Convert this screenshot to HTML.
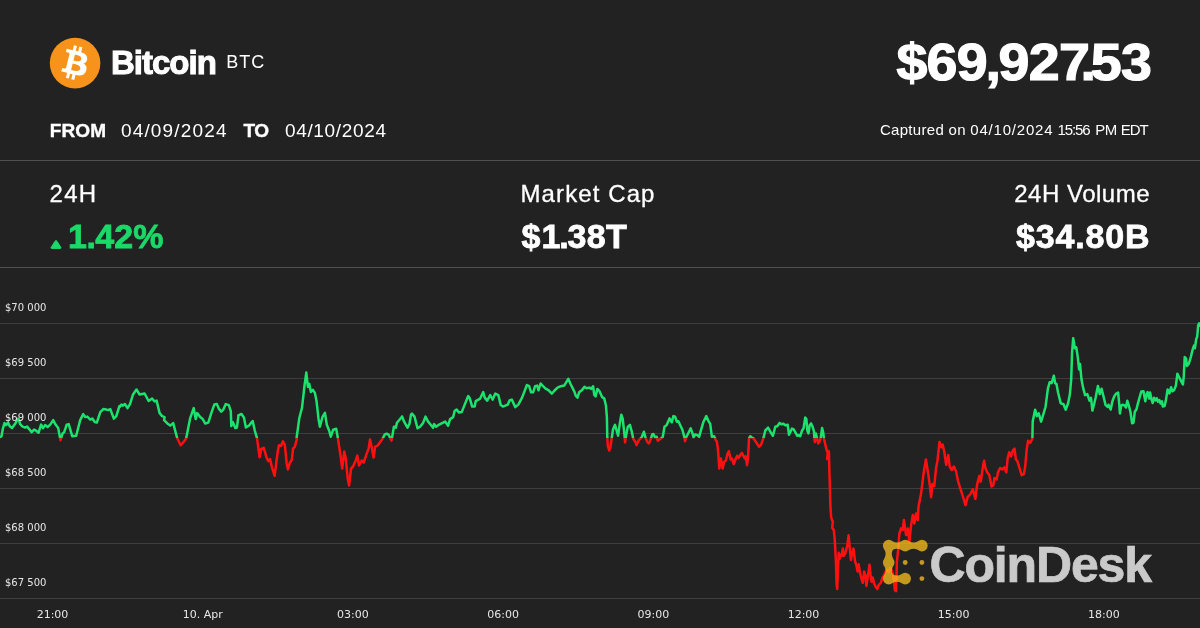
<!DOCTYPE html>
<html><head><meta charset="utf-8"><title>Bitcoin BTC</title>
<style>
html,body{margin:0;padding:0;background:#222;}
body{width:1200px;height:628px;overflow:hidden;position:relative;font-family:"Liberation Sans",sans-serif;color:#fff;}
.abs{position:absolute;white-space:nowrap;line-height:1;}
.b{font-weight:bold;}
.sep{position:absolute;left:0;width:1200px;height:1px;background:#505050;}
svg{position:absolute;left:0;top:0;}
.yl{font-family:"DejaVu Sans",sans-serif;font-size:10px;fill:#e6e6e6;}
.xl{font-family:"DejaVu Sans",sans-serif;font-size:11px;fill:#e6e6e6;}
</style></head><body>
<svg width="1200" height="628" viewBox="0 0 1200 628">
<defs>
<clipPath id="up"><rect x="0" y="280" width="1200" height="158.2"/></clipPath>
<clipPath id="dn"><rect x="0" y="438.2" width="1200" height="189.8"/></clipPath>
</defs>
<rect x="0" y="323" width="1200" height="1" fill="#3e3e3e"/><rect x="0" y="378" width="1200" height="1" fill="#3e3e3e"/><rect x="0" y="433" width="1200" height="1" fill="#3e3e3e"/><rect x="0" y="488" width="1200" height="1" fill="#3e3e3e"/><rect x="0" y="543" width="1200" height="1" fill="#3e3e3e"/><rect x="0" y="598" width="1200" height="1" fill="#3e3e3e"/>
<polyline points="0.0,437.2 1.5,436.2 3.0,428.1 4.5,423.1 6.0,425.1 8.0,422.6 10.0,426.6 12.0,428.1 15.0,424.1 17.6,419.1 18.6,418.6 20.1,424.1 22.6,426.6 25.1,427.6 27.1,426.6 29.6,429.6 31.6,432.2 34.1,429.6 36.1,430.7 38.6,432.7 41.1,424.6 43.1,428.1 45.1,425.1 47.6,427.1 50.2,424.6 53.2,420.1 55.2,424.1 58.2,428.1 60.5,440.2 62.7,433.2 64.2,432.2 66.7,424.6 68.7,424.1 72.2,436.2 76.2,435.7 80.2,420.1 83.2,414.1 85.3,417.1 87.3,416.6 90.3,419.6 92.3,418.6 94.8,422.1 96.8,422.6 100.3,412.1 103.3,409.1 106.3,409.6 108.3,410.1 110.3,409.1 113.8,418.6 116.3,416.1 119.4,406.1 120.0,406.6 121.5,404.6 123.0,405.6 125.0,404.1 127.5,408.1 130.0,404.1 133.0,394.5 136.5,389.5 139.6,394.5 144.6,393.5 148.6,401.0 152.1,398.5 154.6,401.5 156.6,400.5 159.6,413.1 162.1,416.1 164.6,417.1 164.1,420.1 168.1,424.1 170.2,425.6 173.2,423.1 177.2,438.2 180.7,445.2 184.2,441.2 186.2,438.2 190.2,418.1 193.7,408.1 195.7,419.1 197.2,413.1 200.2,417.1 202.7,419.1 205.3,423.6 208.3,422.6 211.3,413.1 214.3,404.6 216.8,404.1 218.8,408.6 221.3,411.6 223.3,409.6 225.8,404.1 228.8,405.1 230.8,411.1 231.3,426.1 232.8,422.1 235.3,428.1 236.9,427.6 238.4,416.1 238.3,415.3 241.5,414.0 244.0,417.8 245.9,427.4 249.1,425.5 251.0,422.9 252.7,421.0 254.8,430.6 257.0,438.2 259.6,457.3 261.2,449.0 263.8,447.8 266.3,456.7 268.2,461.1 270.1,459.2 272.0,467.5 274.6,475.8 277.8,451.0 279.0,445.2 281.0,445.9 282.9,441.4 284.8,444.6 286.7,463.7 288.0,469.4 289.9,462.4 291.8,459.9 293.1,448.4 294.7,447.1 296.9,438.9 296.6,437.7 299.4,417.7 302.0,407.8 304.6,384.9 306.3,372.6 307.9,386.9 309.3,383.9 310.9,391.9 312.9,389.9 314.9,392.9 316.5,400.8 318.5,418.7 319.9,426.7 322.5,416.8 324.9,412.8 326.8,424.7 329.2,430.7 330.8,436.7 333.2,429.7 336.2,428.7 337.8,437.7 340.4,454.6 342.2,468.5 344.2,451.6 345.8,458.6 347.7,478.5 349.1,485.4 351.1,468.5 353.1,466.5 355.7,460.5 357.3,455.6 359.1,465.5 361.7,460.5 363.7,462.5 366.7,453.6 368.6,448.6 370.0,439.6 371.6,446.6 373.6,457.6 375.2,446.6 377.6,445.6 380.6,441.6 383.0,438.0 384.6,434.7 386.6,433.7 388.6,434.7 390.5,438.6 391.5,440.6 392.9,432.7 393.9,426.7 395.9,427.7 396.9,422.7 399.5,419.7 402.1,416.4 404.1,421.7 407.5,427.7 409.5,423.7 411.0,414.6 412.0,413.6 414.5,416.6 417.5,428.2 420.0,426.7 423.0,423.1 425.5,416.6 428.1,421.6 431.1,425.2 433.1,427.7 434.1,424.1 436.1,426.7 439.1,424.6 442.1,423.1 445.1,421.6 448.1,425.7 450.1,419.1 453.1,417.1 454.6,411.1 456.6,409.6 459.1,412.6 461.7,412.1 464.7,404.6 468.2,396.1 469.7,398.1 472.2,406.6 474.7,406.6 475.7,401.1 480.2,398.6 483.2,392.1 484.7,397.6 487.2,400.6 490.2,395.1 492.7,399.6 495.3,393.6 498.3,395.1 500.8,405.1 502.8,406.6 507.8,404.6 509.8,400.1 511.8,399.6 515.3,407.1 518.3,404.6 522.3,397.1 526.9,385.0 529.1,386.2 531.1,392.3 533.1,392.3 535.1,386.2 537.2,385.6 538.5,390.3 540.6,383.5 542.6,385.6 545.3,388.3 548.7,390.3 551.8,393.7 554.1,391.0 557.5,387.6 560.9,386.2 564.2,385.6 566.3,382.2 568.3,378.8 570.3,383.5 572.4,387.6 574.4,391.7 575.7,395.7 577.5,397.7 579.1,392.3 581.8,390.3 584.5,386.9 586.6,388.3 589.3,387.6 591.3,388.9 593.1,386.2 594.3,395.0 595.6,396.4 597.4,388.9 599.4,391.0 602.1,397.1 604.2,398.4 605.9,405.2 606.9,417.4 607.3,437.7 607.8,445.8 609.2,450.5 610.5,447.1 611.6,439.0 613.0,429.5 615.0,424.8 616.3,429.5 618.1,435.6 619.7,424.1 621.3,414.7 622.7,418.7 624.5,435.0 625.1,442.4 626.2,435.0 627.8,426.8 629.9,424.8 631.9,432.2 633.3,439.0 635.3,441.7 636.6,445.1 638.7,440.4 641.4,437.7 641.7,437.3 643.9,431.7 645.6,437.9 647.2,441.8 648.9,443.4 650.6,439.5 652.3,434.5 653.4,434.0 655.0,437.3 656.7,436.8 657.8,440.7 659.5,439.5 661.7,437.9 662.8,436.8 664.5,426.7 666.7,425.1 669.5,418.4 671.8,422.3 673.4,416.1 675.1,416.7 676.8,421.7 678.4,421.2 680.7,426.2 682.3,429.5 684.0,435.6 685.1,441.2 686.2,437.3 687.9,434.0 690.7,428.4 692.4,432.9 693.5,437.3 695.2,434.5 697.4,435.1 699.1,436.8 700.7,431.2 703.5,421.7 706.3,416.1 708.5,421.2 710.2,423.9 711.9,436.8 714.1,436.2 715.8,440.1 716.9,441.8 718.0,449.6 719.3,468.5 720.8,458.5 722.7,468.5 724.1,461.8 725.8,460.7 727.5,454.0 728.8,451.2 730.8,459.6 731.9,458.5 733.8,464.1 735.8,458.5 737.2,455.7 738.6,457.9 740.3,455.1 741.9,452.9 744.7,458.5 745.8,456.3 747.0,465.2 748.1,457.4 749.0,438.4 750.3,436.2 751.9,437.7 753.8,438.7 756.7,443.0 759.1,446.8 761.0,444.9 763.4,438.2 765.3,430.5 768.1,427.7 770.5,432.0 772.9,435.8 775.3,426.7 777.2,426.2 779.6,422.9 781.5,424.3 783.4,423.8 785.3,425.3 787.7,424.8 789.0,434.8 790.1,432.4 792.0,428.6 793.5,429.1 795.4,432.4 797.3,435.8 798.7,435.3 800.1,436.3 802.1,430.5 803.5,428.6 805.2,417.6 806.4,419.1 807.3,430.5 808.5,433.4 809.7,425.3 811.1,423.4 812.6,426.7 814.0,431.5 814.4,438.7 814.9,442.0 815.9,433.4 816.9,437.7 818.3,443.4 819.7,441.5 820.7,437.7 822.1,428.1 823.1,432.0 824.0,438.7 825.5,445.3 826.9,451.1 827.8,450.8 827.2,459.1 828.9,451.5 829.4,471.8 830.0,491.0 830.4,506.2 831.2,517.6 832.8,521.7 832.2,527.9 833.8,530.0 834.8,540.4 835.9,561.1 836.6,583.8 837.2,589.0 837.9,571.4 838.7,552.8 839.5,559.0 840.5,554.8 841.6,555.9 842.8,548.6 843.6,555.9 845.2,553.8 847.3,545.5 848.6,535.2 849.8,548.6 850.9,560.0 852.1,552.8 853.5,548.6 855.0,561.1 856.6,566.2 857.6,571.4 858.6,564.2 860.2,573.5 861.7,579.7 862.8,582.8 864.1,571.4 865.4,575.5 866.4,585.9 868.0,575.5 869.5,564.7 870.5,574.5 871.6,581.8 872.8,577.6 874.2,583.8 875.7,586.9 877.3,589.0 878.8,584.9 880.9,582.8 882.5,577.6 884.0,575.5 885.6,571.4 887.1,569.9 888.5,572.2 890.2,567.9 891.9,570.5 893.6,576.9 894.9,590.3 896.1,591.1 896.9,561.9 898.1,550.2 899.4,533.4 901.1,528.4 902.7,530.1 903.9,520.1 906.1,535.1 907.8,528.4 909.4,541.8 911.1,525.1 912.8,515.1 914.4,523.4 916.1,513.4 917.8,520.1 918.5,506.8 921.2,492.8 923.8,471.8 925.9,459.5 928.2,473.5 929.9,485.8 931.1,497.2 932.5,484.0 934.3,485.8 936.0,468.3 937.4,461.3 939.5,442.0 941.3,447.3 942.7,444.6 944.4,452.5 946.2,464.8 948.3,455.1 949.7,466.5 951.8,470.0 953.9,466.5 956.2,471.8 957.9,480.5 960.6,489.3 962.3,494.5 965.5,505.1 967.6,497.2 970.2,494.5 972.8,489.3 975.4,498.9 977.2,484.0 979.4,475.9 980.8,481.6 982.9,466.6 984.1,460.8 985.4,468.0 987.2,472.3 989.4,475.2 991.5,486.6 993.4,485.2 994.4,478.0 996.6,479.5 998.0,472.3 1000.1,468.0 1002.3,469.4 1004.4,467.3 1006.3,472.3 1007.7,458.0 1009.2,452.2 1010.9,456.5 1013.0,450.1 1014.5,448.6 1015.9,459.4 1017.3,460.8 1019.5,468.0 1021.6,475.2 1023.8,474.4 1025.2,466.6 1026.7,449.4 1028.1,440.8 1030.2,442.9 1032.4,438.6 1032.7,421.6 1035.1,409.7 1036.9,416.1 1038.7,413.4 1041.1,421.6 1043.3,414.3 1045.5,407.0 1047.9,388.7 1049.7,382.2 1051.6,383.2 1053.8,375.8 1055.2,383.2 1056.5,384.1 1058.0,392.3 1060.7,403.3 1063.5,404.2 1065.7,409.7 1068.1,403.3 1069.9,394.1 1071.2,379.5 1072.1,352.0 1073.2,338.2 1074.9,348.3 1076.3,347.4 1077.8,357.5 1079.1,369.4 1080.0,363.9 1081.5,379.5 1083.3,388.7 1085.1,395.1 1087.3,394.1 1089.5,400.6 1091.0,397.8 1092.4,410.6 1094.3,403.3 1095.6,397.8 1097.9,385.9 1099.8,394.1 1101.6,388.7 1103.4,396.0 1105.6,405.1 1107.8,407.0 1108.5,404.8 1110.7,409.6 1112.4,401.3 1114.2,396.5 1115.9,393.8 1118.1,392.5 1119.0,401.3 1119.9,413.5 1121.2,405.6 1122.5,404.8 1124.3,405.2 1126.0,407.4 1127.3,400.8 1128.6,404.8 1130.4,411.8 1132.1,423.2 1133.5,422.7 1134.8,411.8 1136.5,409.2 1137.8,403.9 1139.6,397.3 1141.3,391.6 1143.5,391.2 1145.3,401.3 1146.2,396.0 1147.5,392.1 1149.2,398.6 1150.1,392.5 1151.4,399.1 1152.7,403.0 1154.0,397.8 1155.4,400.4 1156.7,398.2 1158.0,401.7 1159.3,400.0 1160.6,403.5 1161.9,401.3 1162.8,406.5 1164.5,406.1 1165.9,400.4 1167.6,389.4 1169.4,393.4 1171.1,387.3 1172.4,391.2 1174.2,389.9 1175.9,385.5 1177.4,373.7 1179.3,377.5 1181.2,381.3 1182.9,384.5 1183.8,376.2 1184.7,357.1 1186.0,358.4 1187.0,366.0 1188.9,363.5 1190.8,357.1 1192.7,349.4 1194.0,345.6 1194.9,348.2 1196.2,339.2 1197.2,336.7 1198.2,325.2 1199.1,323.3 1200.0,325.8" fill="none" stroke="#1ce26e" stroke-width="2.5" stroke-linejoin="round" stroke-linecap="round" clip-path="url(#up)"/>
<polyline points="0.0,437.2 1.5,436.2 3.0,428.1 4.5,423.1 6.0,425.1 8.0,422.6 10.0,426.6 12.0,428.1 15.0,424.1 17.6,419.1 18.6,418.6 20.1,424.1 22.6,426.6 25.1,427.6 27.1,426.6 29.6,429.6 31.6,432.2 34.1,429.6 36.1,430.7 38.6,432.7 41.1,424.6 43.1,428.1 45.1,425.1 47.6,427.1 50.2,424.6 53.2,420.1 55.2,424.1 58.2,428.1 60.5,440.2 62.7,433.2 64.2,432.2 66.7,424.6 68.7,424.1 72.2,436.2 76.2,435.7 80.2,420.1 83.2,414.1 85.3,417.1 87.3,416.6 90.3,419.6 92.3,418.6 94.8,422.1 96.8,422.6 100.3,412.1 103.3,409.1 106.3,409.6 108.3,410.1 110.3,409.1 113.8,418.6 116.3,416.1 119.4,406.1 120.0,406.6 121.5,404.6 123.0,405.6 125.0,404.1 127.5,408.1 130.0,404.1 133.0,394.5 136.5,389.5 139.6,394.5 144.6,393.5 148.6,401.0 152.1,398.5 154.6,401.5 156.6,400.5 159.6,413.1 162.1,416.1 164.6,417.1 164.1,420.1 168.1,424.1 170.2,425.6 173.2,423.1 177.2,438.2 180.7,445.2 184.2,441.2 186.2,438.2 190.2,418.1 193.7,408.1 195.7,419.1 197.2,413.1 200.2,417.1 202.7,419.1 205.3,423.6 208.3,422.6 211.3,413.1 214.3,404.6 216.8,404.1 218.8,408.6 221.3,411.6 223.3,409.6 225.8,404.1 228.8,405.1 230.8,411.1 231.3,426.1 232.8,422.1 235.3,428.1 236.9,427.6 238.4,416.1 238.3,415.3 241.5,414.0 244.0,417.8 245.9,427.4 249.1,425.5 251.0,422.9 252.7,421.0 254.8,430.6 257.0,438.2 259.6,457.3 261.2,449.0 263.8,447.8 266.3,456.7 268.2,461.1 270.1,459.2 272.0,467.5 274.6,475.8 277.8,451.0 279.0,445.2 281.0,445.9 282.9,441.4 284.8,444.6 286.7,463.7 288.0,469.4 289.9,462.4 291.8,459.9 293.1,448.4 294.7,447.1 296.9,438.9 296.6,437.7 299.4,417.7 302.0,407.8 304.6,384.9 306.3,372.6 307.9,386.9 309.3,383.9 310.9,391.9 312.9,389.9 314.9,392.9 316.5,400.8 318.5,418.7 319.9,426.7 322.5,416.8 324.9,412.8 326.8,424.7 329.2,430.7 330.8,436.7 333.2,429.7 336.2,428.7 337.8,437.7 340.4,454.6 342.2,468.5 344.2,451.6 345.8,458.6 347.7,478.5 349.1,485.4 351.1,468.5 353.1,466.5 355.7,460.5 357.3,455.6 359.1,465.5 361.7,460.5 363.7,462.5 366.7,453.6 368.6,448.6 370.0,439.6 371.6,446.6 373.6,457.6 375.2,446.6 377.6,445.6 380.6,441.6 383.0,438.0 384.6,434.7 386.6,433.7 388.6,434.7 390.5,438.6 391.5,440.6 392.9,432.7 393.9,426.7 395.9,427.7 396.9,422.7 399.5,419.7 402.1,416.4 404.1,421.7 407.5,427.7 409.5,423.7 411.0,414.6 412.0,413.6 414.5,416.6 417.5,428.2 420.0,426.7 423.0,423.1 425.5,416.6 428.1,421.6 431.1,425.2 433.1,427.7 434.1,424.1 436.1,426.7 439.1,424.6 442.1,423.1 445.1,421.6 448.1,425.7 450.1,419.1 453.1,417.1 454.6,411.1 456.6,409.6 459.1,412.6 461.7,412.1 464.7,404.6 468.2,396.1 469.7,398.1 472.2,406.6 474.7,406.6 475.7,401.1 480.2,398.6 483.2,392.1 484.7,397.6 487.2,400.6 490.2,395.1 492.7,399.6 495.3,393.6 498.3,395.1 500.8,405.1 502.8,406.6 507.8,404.6 509.8,400.1 511.8,399.6 515.3,407.1 518.3,404.6 522.3,397.1 526.9,385.0 529.1,386.2 531.1,392.3 533.1,392.3 535.1,386.2 537.2,385.6 538.5,390.3 540.6,383.5 542.6,385.6 545.3,388.3 548.7,390.3 551.8,393.7 554.1,391.0 557.5,387.6 560.9,386.2 564.2,385.6 566.3,382.2 568.3,378.8 570.3,383.5 572.4,387.6 574.4,391.7 575.7,395.7 577.5,397.7 579.1,392.3 581.8,390.3 584.5,386.9 586.6,388.3 589.3,387.6 591.3,388.9 593.1,386.2 594.3,395.0 595.6,396.4 597.4,388.9 599.4,391.0 602.1,397.1 604.2,398.4 605.9,405.2 606.9,417.4 607.3,437.7 607.8,445.8 609.2,450.5 610.5,447.1 611.6,439.0 613.0,429.5 615.0,424.8 616.3,429.5 618.1,435.6 619.7,424.1 621.3,414.7 622.7,418.7 624.5,435.0 625.1,442.4 626.2,435.0 627.8,426.8 629.9,424.8 631.9,432.2 633.3,439.0 635.3,441.7 636.6,445.1 638.7,440.4 641.4,437.7 641.7,437.3 643.9,431.7 645.6,437.9 647.2,441.8 648.9,443.4 650.6,439.5 652.3,434.5 653.4,434.0 655.0,437.3 656.7,436.8 657.8,440.7 659.5,439.5 661.7,437.9 662.8,436.8 664.5,426.7 666.7,425.1 669.5,418.4 671.8,422.3 673.4,416.1 675.1,416.7 676.8,421.7 678.4,421.2 680.7,426.2 682.3,429.5 684.0,435.6 685.1,441.2 686.2,437.3 687.9,434.0 690.7,428.4 692.4,432.9 693.5,437.3 695.2,434.5 697.4,435.1 699.1,436.8 700.7,431.2 703.5,421.7 706.3,416.1 708.5,421.2 710.2,423.9 711.9,436.8 714.1,436.2 715.8,440.1 716.9,441.8 718.0,449.6 719.3,468.5 720.8,458.5 722.7,468.5 724.1,461.8 725.8,460.7 727.5,454.0 728.8,451.2 730.8,459.6 731.9,458.5 733.8,464.1 735.8,458.5 737.2,455.7 738.6,457.9 740.3,455.1 741.9,452.9 744.7,458.5 745.8,456.3 747.0,465.2 748.1,457.4 749.0,438.4 750.3,436.2 751.9,437.7 753.8,438.7 756.7,443.0 759.1,446.8 761.0,444.9 763.4,438.2 765.3,430.5 768.1,427.7 770.5,432.0 772.9,435.8 775.3,426.7 777.2,426.2 779.6,422.9 781.5,424.3 783.4,423.8 785.3,425.3 787.7,424.8 789.0,434.8 790.1,432.4 792.0,428.6 793.5,429.1 795.4,432.4 797.3,435.8 798.7,435.3 800.1,436.3 802.1,430.5 803.5,428.6 805.2,417.6 806.4,419.1 807.3,430.5 808.5,433.4 809.7,425.3 811.1,423.4 812.6,426.7 814.0,431.5 814.4,438.7 814.9,442.0 815.9,433.4 816.9,437.7 818.3,443.4 819.7,441.5 820.7,437.7 822.1,428.1 823.1,432.0 824.0,438.7 825.5,445.3 826.9,451.1 827.8,450.8 827.2,459.1 828.9,451.5 829.4,471.8 830.0,491.0 830.4,506.2 831.2,517.6 832.8,521.7 832.2,527.9 833.8,530.0 834.8,540.4 835.9,561.1 836.6,583.8 837.2,589.0 837.9,571.4 838.7,552.8 839.5,559.0 840.5,554.8 841.6,555.9 842.8,548.6 843.6,555.9 845.2,553.8 847.3,545.5 848.6,535.2 849.8,548.6 850.9,560.0 852.1,552.8 853.5,548.6 855.0,561.1 856.6,566.2 857.6,571.4 858.6,564.2 860.2,573.5 861.7,579.7 862.8,582.8 864.1,571.4 865.4,575.5 866.4,585.9 868.0,575.5 869.5,564.7 870.5,574.5 871.6,581.8 872.8,577.6 874.2,583.8 875.7,586.9 877.3,589.0 878.8,584.9 880.9,582.8 882.5,577.6 884.0,575.5 885.6,571.4 887.1,569.9 888.5,572.2 890.2,567.9 891.9,570.5 893.6,576.9 894.9,590.3 896.1,591.1 896.9,561.9 898.1,550.2 899.4,533.4 901.1,528.4 902.7,530.1 903.9,520.1 906.1,535.1 907.8,528.4 909.4,541.8 911.1,525.1 912.8,515.1 914.4,523.4 916.1,513.4 917.8,520.1 918.5,506.8 921.2,492.8 923.8,471.8 925.9,459.5 928.2,473.5 929.9,485.8 931.1,497.2 932.5,484.0 934.3,485.8 936.0,468.3 937.4,461.3 939.5,442.0 941.3,447.3 942.7,444.6 944.4,452.5 946.2,464.8 948.3,455.1 949.7,466.5 951.8,470.0 953.9,466.5 956.2,471.8 957.9,480.5 960.6,489.3 962.3,494.5 965.5,505.1 967.6,497.2 970.2,494.5 972.8,489.3 975.4,498.9 977.2,484.0 979.4,475.9 980.8,481.6 982.9,466.6 984.1,460.8 985.4,468.0 987.2,472.3 989.4,475.2 991.5,486.6 993.4,485.2 994.4,478.0 996.6,479.5 998.0,472.3 1000.1,468.0 1002.3,469.4 1004.4,467.3 1006.3,472.3 1007.7,458.0 1009.2,452.2 1010.9,456.5 1013.0,450.1 1014.5,448.6 1015.9,459.4 1017.3,460.8 1019.5,468.0 1021.6,475.2 1023.8,474.4 1025.2,466.6 1026.7,449.4 1028.1,440.8 1030.2,442.9 1032.4,438.6 1032.7,421.6 1035.1,409.7 1036.9,416.1 1038.7,413.4 1041.1,421.6 1043.3,414.3 1045.5,407.0 1047.9,388.7 1049.7,382.2 1051.6,383.2 1053.8,375.8 1055.2,383.2 1056.5,384.1 1058.0,392.3 1060.7,403.3 1063.5,404.2 1065.7,409.7 1068.1,403.3 1069.9,394.1 1071.2,379.5 1072.1,352.0 1073.2,338.2 1074.9,348.3 1076.3,347.4 1077.8,357.5 1079.1,369.4 1080.0,363.9 1081.5,379.5 1083.3,388.7 1085.1,395.1 1087.3,394.1 1089.5,400.6 1091.0,397.8 1092.4,410.6 1094.3,403.3 1095.6,397.8 1097.9,385.9 1099.8,394.1 1101.6,388.7 1103.4,396.0 1105.6,405.1 1107.8,407.0 1108.5,404.8 1110.7,409.6 1112.4,401.3 1114.2,396.5 1115.9,393.8 1118.1,392.5 1119.0,401.3 1119.9,413.5 1121.2,405.6 1122.5,404.8 1124.3,405.2 1126.0,407.4 1127.3,400.8 1128.6,404.8 1130.4,411.8 1132.1,423.2 1133.5,422.7 1134.8,411.8 1136.5,409.2 1137.8,403.9 1139.6,397.3 1141.3,391.6 1143.5,391.2 1145.3,401.3 1146.2,396.0 1147.5,392.1 1149.2,398.6 1150.1,392.5 1151.4,399.1 1152.7,403.0 1154.0,397.8 1155.4,400.4 1156.7,398.2 1158.0,401.7 1159.3,400.0 1160.6,403.5 1161.9,401.3 1162.8,406.5 1164.5,406.1 1165.9,400.4 1167.6,389.4 1169.4,393.4 1171.1,387.3 1172.4,391.2 1174.2,389.9 1175.9,385.5 1177.4,373.7 1179.3,377.5 1181.2,381.3 1182.9,384.5 1183.8,376.2 1184.7,357.1 1186.0,358.4 1187.0,366.0 1188.9,363.5 1190.8,357.1 1192.7,349.4 1194.0,345.6 1194.9,348.2 1196.2,339.2 1197.2,336.7 1198.2,325.2 1199.1,323.3 1200.0,325.8" fill="none" stroke="#ff1010" stroke-width="2.5" stroke-linejoin="round" stroke-linecap="round" clip-path="url(#dn)"/>
<text x="5" y="311" class="yl">$70 000</text><text x="5" y="366" class="yl">$69 500</text><text x="5" y="421" class="yl">$69 000</text><text x="5" y="476" class="yl">$68 500</text><text x="5" y="531" class="yl">$68 000</text><text x="5" y="586" class="yl">$67 500</text>
<text x="52.5" y="618" class="xl" text-anchor="middle">21:00</text><text x="202.7" y="618" class="xl" text-anchor="middle">10. Apr</text><text x="352.9" y="618" class="xl" text-anchor="middle">03:00</text><text x="503.1" y="618" class="xl" text-anchor="middle">06:00</text><text x="653.3" y="618" class="xl" text-anchor="middle">09:00</text><text x="803.5" y="618" class="xl" text-anchor="middle">12:00</text><text x="953.7" y="618" class="xl" text-anchor="middle">15:00</text><text x="1103.9" y="618" class="xl" text-anchor="middle">18:00</text>
<g opacity="0.76"><path d="M892.43,541.16 Q896.95,543.84 901.47,541.16 L901.47,550.04 Q896.95,547.36 892.43,550.04 Z M908.93,541.16 Q913.55,543.84 918.17,541.16 L918.17,550.04 Q913.55,547.36 908.93,550.04 Z M884.26,549.33 Q886.94,554.05 884.26,558.77 L893.14,558.77 Q890.46,554.05 893.14,549.33 Z M884.26,566.23 Q886.94,570.55 884.26,574.87 L893.14,574.87 Q890.46,570.55 893.14,566.23 Z M892.43,574.16 Q896.95,576.84 901.47,574.16 L901.47,583.04 Q896.95,580.36 892.43,583.04 Z " fill="#f8bf1e"/><circle cx="888.7" cy="545.6" r="5.8" fill="#f8bf1e"/><circle cx="905.2" cy="545.6" r="5.8" fill="#f8bf1e"/><circle cx="921.9" cy="545.6" r="5.8" fill="#f8bf1e"/><circle cx="888.7" cy="562.5" r="5.8" fill="#f8bf1e"/><circle cx="888.7" cy="578.6" r="5.8" fill="#f8bf1e"/><circle cx="905.2" cy="578.6" r="5.8" fill="#f8bf1e"/><circle cx="905.2" cy="562.5" r="2.4" fill="#f8bf1e"/><circle cx="921.9" cy="562.5" r="2.4" fill="#f8bf1e"/><circle cx="921.9" cy="578.6" r="2.4" fill="#f8bf1e"/></g>
<!-- bitcoin logo -->
<circle cx="75.1" cy="63.1" r="25.3" fill="#f7931a"/>
<g transform="translate(75.1,63.1) scale(0.855) translate(-32,-32)">
<path fill="#fff" d="m46.103,27.444c0.637-4.258-2.605-6.547-7.038-8.074l1.438-5.768-3.511-0.875-1.400,5.616c-0.923-0.230-1.871-0.447-2.813-0.662l1.410-5.653-3.509-0.875-1.439,5.766c-0.764-0.174-1.514-0.346-2.242-0.527l0.004-0.018-4.842-1.209-0.934,3.750s2.605,0.597,2.550,0.634c1.422,0.355,1.679,1.296,1.636,2.042l-1.638,6.571c0.098,0.025,0.225,0.061,0.365,0.117-0.117-0.029-0.242-0.061-0.371-0.092l-2.296,9.205c-0.174,0.432-0.615,1.080-1.609,0.834,0.035,0.051-2.552-0.637-2.552-0.637l-1.743,4.019,4.569,1.139c0.850,0.213,1.683,0.436,2.503,0.646l-1.453,5.834,3.507,0.875,1.439-5.772c0.958,0.260,1.888,0.500,2.798,0.726l-1.434,5.745,3.511,0.875,1.453-5.823c5.987,1.133,10.489,0.676,12.384-4.739,1.527-4.360-0.076-6.875-3.226-8.515,2.294-0.529,4.022-2.038,4.483-5.155zm-8.022,11.249c-1.085,4.360-8.426,2.003-10.806,1.412l1.928-7.729c2.380,0.594,10.012,1.770,8.878,6.317zm1.086-11.312c-0.990,3.966-7.100,1.951-9.082,1.457l1.748-7.010c1.982,0.494,8.365,1.416,7.334,5.553z"/>
</g>
</svg>
<div class="sep" style="top:160px"></div>
<div class="sep" style="top:267px"></div>

<div id="t_bitcoin" class="abs b" style="left:111px;top:46px;font-size:33px;letter-spacing:-1px;-webkit-text-stroke:1px #fff;">Bitcoin</div>
<div id="t_btc" class="abs" style="left:226.300px;top:53px;font-size:18px;letter-spacing:1px;">BTC</div>
<div id="t_from" class="abs b" style="left:49.700px;top:121px;font-size:19px;letter-spacing:0.150px;-webkit-text-stroke:0.400px #fff;">FROM</div>
<div id="t_d1" class="abs" style="left:121px;top:121px;font-size:19px;letter-spacing:1.150px;">04/09/2024</div>
<div id="t_to" class="abs b" style="left:243.500px;top:121px;font-size:19px;letter-spacing:-0.500px;-webkit-text-stroke:0.400px #fff;">TO</div>
<div id="t_d2" class="abs" style="left:285px;top:121px;font-size:19px;letter-spacing:0.650px;">04/10/2024</div>
<div id="t_price" class="abs b" style="right:49px;top:36.500px;font-size:51.100px;letter-spacing:-0.650px;transform:scaleX(1.088);transform-origin:100% 50%;-webkit-text-stroke:1.200px #fff;">$69<span style="margin:0 -1.500px 0 -1.500px">,</span>927<span style="margin:0 -4px 0 -8px">.</span>53</div>
<div id="t_cap" class="abs" style="right:52.300px;top:121.500px;font-size:15px;"><span style="letter-spacing:0.300px">Captured on </span><span style="letter-spacing:0.800px">04/10/2024</span> <span style="letter-spacing:-1.100px;margin-right:1.500px">15:56</span> <span style="letter-spacing:-0.400px">PM </span><span style="letter-spacing:-1px">EDT</span></div>

<div id="t_24h" class="abs" style="-webkit-text-stroke:0.300px #fff;left:49.500px;top:182px;font-size:24px;letter-spacing:1.300px;">24H</div>
<svg width="16" height="12" style="left:48px;top:238px" viewBox="0 0 16 12"><path d="M3.200,9.300 L7,3.300 Q8,1.900 9,3.300 L12.800,9.300 Q13.500,10.400 12.300,10.400 H3.700 Q2.500,10.400 3.200,9.300 Z" fill="#1bd968" stroke="#1bd968" stroke-width="1" stroke-linejoin="round"/></svg>
<div id="t_pct" class="abs b" style="left:68px;top:219px;font-size:34px;color:#1bd968;-webkit-text-stroke:0.800px #1bd968;"><span style="letter-spacing:-0.400px">1</span><span style="letter-spacing:-0.800px">.</span><span style="letter-spacing:0.100px">42%</span></div>
<div id="t_mc" class="abs" style="-webkit-text-stroke:0.300px #fff;left:520.500px;top:182px;font-size:24px;letter-spacing:1.100px;">Market Cap</div>
<div id="t_mcv" class="abs b" style="left:521.500px;top:219px;font-size:34px;-webkit-text-stroke:0.800px #fff;"><span style="letter-spacing:1px">$</span><span style="letter-spacing:-1.200px">1</span><span style="letter-spacing:-1px">.</span><span style="letter-spacing:0.300px">38T</span></div>
<div id="t_vol" class="abs" style="-webkit-text-stroke:0.300px #fff;right:50px;top:182px;font-size:24px;letter-spacing:0.500px;">24H Volume</div>
<div id="t_volv" class="abs b" style="right:49.500px;top:219px;font-size:34px;letter-spacing:0.850px;-webkit-text-stroke:0.800px #fff;">$34.80B</div>
<div id="t_cd" class="abs b" style="left:929.500px;top:539.500px;font-size:50px;letter-spacing:-1.150px;color:#fff;opacity:0.76;-webkit-text-stroke:0.700px #fff;">CoinDesk</div>
</body></html>
